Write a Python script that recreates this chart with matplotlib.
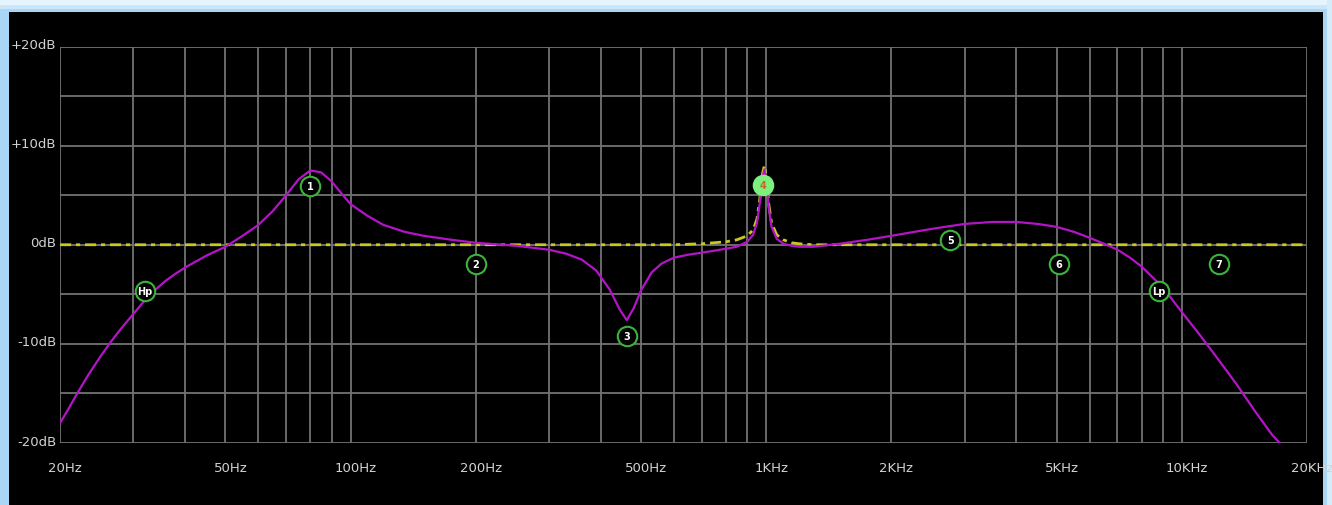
import numpy as np
import matplotlib
matplotlib.use("Agg")
import matplotlib.pyplot as plt
from matplotlib.patches import Rectangle
import matplotlib.transforms as mtransforms

plt.rcParams["lines.scale_dashes"] = False

# ---------------- data ----------------
freq_hz = [20, 21, 22, 23.5, 25, 26.5, 28, 30, 32, 34, 36, 38, 40, 45, 50, 55, 60, 65, 70,
           75, 80, 85, 90, 95, 100, 110, 120, 135, 150, 175, 200, 250, 300, 330, 360, 390,
           420, 445, 462, 480, 500, 530, 560, 600, 650, 700, 750, 800, 850, 900, 930, 950,
           965, 980, 990, 1000, 1015, 1030, 1060, 1100, 1150, 1200, 1300, 1500, 1750,
           2000, 2500, 3000, 3500, 4000, 4500, 5000, 5500, 6000, 6500, 7000, 7500, 8000,
           9000, 10000, 11000, 12000, 13500, 15000, 16500, 17200]
gain_db = [-18.0, -16.5, -15.0, -13.0, -11.3, -9.8, -8.5, -7.0, -5.6, -4.5, -3.6, -2.9, -2.3,
           -1.1, -0.2, 0.9, 2.0, 3.4, 5.0, 6.6, 7.5, 7.3, 6.4, 5.2, 4.1, 2.9, 2.0, 1.3, 0.9,
           0.5, 0.2, -0.1, -0.5, -0.9, -1.5, -2.6, -4.5, -6.6, -7.6, -6.4, -4.6, -2.8, -1.9,
           -1.3, -1.0, -0.8, -0.6, -0.4, -0.2, 0.3, 1.0, 2.2, 4.2, 6.8, 7.6, 6.5, 3.6, 1.8,
           0.6, 0.1, -0.1, -0.2, -0.2, 0.1, 0.5, 0.9, 1.6, 2.1, 2.3, 2.3, 2.1, 1.8, 1.3, 0.7,
           0.1, -0.5, -1.3, -2.2, -4.3, -6.8, -9.0, -11.1, -14.0, -16.8, -19.2, -20.0]

band4_freq = [20, 600, 700, 800, 850, 900, 930, 950, 965, 980, 990, 1000, 1015, 1030,
              1060, 1100, 1150, 1200, 1300, 20000]
band4_gain = [0.0, 0.0, 0.1, 0.3, 0.5, 0.9, 1.5, 2.6, 4.6, 7.2, 8.0, 6.9, 4.0, 2.2,
              1.0, 0.5, 0.2, 0.1, 0.0, 0.0]

marker_labels = ["Hp", "1", "2", "3", "4", "5", "6", "Lp", "7"]
marker_freq = [32, 80, 200, 462, 985, 2770, 5050, 8800, 12300]
marker_gain = [-4.7, 5.9, -1.9, -9.2, 6.0, 0.5, -1.9, -4.7, -1.9]

xtick_vals = [20, 50, 100, 200, 500, 1000, 2000, 5000, 10000, 20000]
xtick_labels = ["20Hz", "50Hz", "100Hz", "200Hz", "500Hz", "1KHz", "2KHz", "5KHz", "10KHz", "20KHz"]
ytick_vals = [20, 10, 0, -10, -20]
ytick_labels = ["+20dB", "+10dB", "0dB", "-10dB", "-20dB"]

# ---------------- figure ----------------
W, H = 1332, 506
fig = plt.figure(figsize=(W / 100, H / 100), dpi=100)
fig.patch.set_facecolor("#a9d6f5")

# window frame: top highlight and black client area
fig.patches.append(Rectangle((0, (H - 6) / H), 1, 6 / H, transform=fig.transFigure,
                             facecolor="#e6f4fd", edgecolor="none", zorder=-3))
fig.patches.append(Rectangle((0, (H - 10) / H), 1, 4 / H, transform=fig.transFigure,
                             facecolor="#c9e6fa", edgecolor="none", zorder=-3))
fig.patches.append(Rectangle((1327 / W, 0), 5 / W, 1, transform=fig.transFigure,
                             facecolor="#d5ecfb", edgecolor="none", zorder=-3))
fig.patches.append(Rectangle((9 / W, 0), (1323 - 9) / W, (H - 13) / H,
                             transform=fig.transFigure, facecolor="black",
                             edgecolor="none", zorder=-2))

x0, x1 = 60, 1307
y_top, y_bot = 47.5, 444
ax = fig.add_axes([x0 / W, (H - y_bot) / H, (x1 - x0) / W, (y_bot - y_top) / H])
ax.set_zorder(2)
ax.set_facecolor("black")
ax.set_xscale("log")
ax.set_xlim(20, 20000)
ax.set_ylim(-20, 20)

grid_c = "#737373"
vlines = list(range(20, 100, 10)) + list(range(100, 1000, 100)) + \
    list(range(1000, 10000, 1000)) + [10000, 20000]
for v in vlines:
    ax.axvline(v, color=grid_c, lw=1.3, zorder=1)
for h in range(-20, 21, 5):
    ax.axhline(h, color=grid_c, lw=1.3, zorder=1)
for s in ax.spines.values():
    s.set_visible(False)

# reference (band 4 / flat) line
ax.plot(band4_freq, band4_gain, color="#c8c81e", lw=2.0,
        dashes=[8, 3.5, 3, 3.5], zorder=3, clip_on=False)
# response curve
ax.plot(freq_hz, gain_db, color="#b414c8", lw=1.6, zorder=4, clip_on=True)

# band markers
for lab, f, g in zip(marker_labels, marker_freq, marker_gain):
    filled = lab == "4"
    ax.plot([f], [g], marker="o", ms=14, mfc="#7cf07c" if filled else "black",
            mec="#3cb43c" if not filled else "#7cf07c", mew=1.5, zorder=5)
    ax.text(f, g, lab, color="#c86428" if filled else "white", fontsize=7,
            ha="center", va="center", zorder=6, fontweight="bold")

ax.set_xticks([])
ax.set_yticks([])
ax.minorticks_off()

label_c = "#d2d2d2"
xoff = mtransforms.offset_copy(ax.transData, fig=fig, x=5, y=0, units="dots")
for v, t in zip(xtick_vals, xtick_labels):
    ax.text(v, -21.8, t, color=label_c, fontsize=9.5, ha="center", va="top",
            clip_on=False, transform=xoff)
for v, t in zip(ytick_vals, ytick_labels):
    ax.text(19.6, v + 0.2, t, color=label_c, fontsize=9.5, ha="right", va="center",
            clip_on=False)

fig.savefig("out.png", dpi=100, facecolor=fig.get_facecolor())
